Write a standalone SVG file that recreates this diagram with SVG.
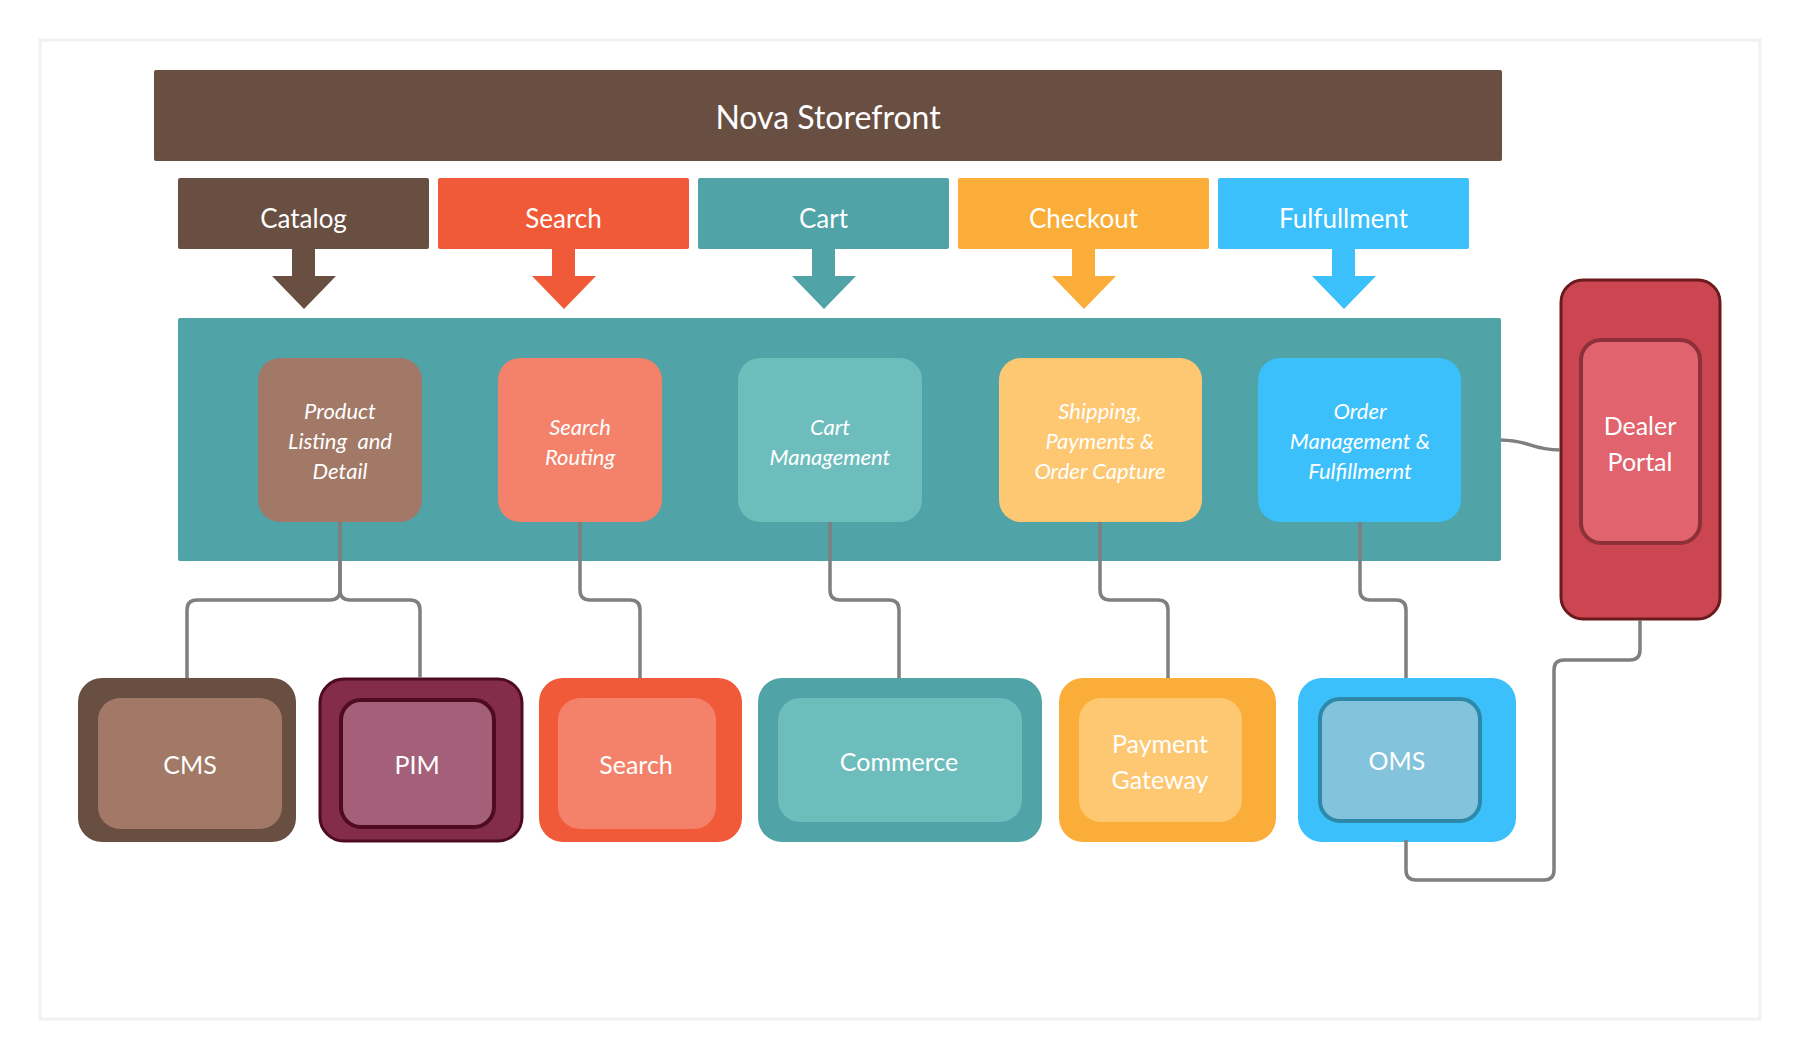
<svg xmlns="http://www.w3.org/2000/svg" width="1800" height="1060" viewBox="0 0 1800 1060">
<style>
  text { font-family: Lato, "Open Sans", "Liberation Sans", sans-serif; fill: #ffffff; text-anchor: middle; dominant-baseline: central; }
  .title { font-size: 32px; }
  .cat { font-size: 26px; }
  .svc { font-size: 22px; font-style: italic; white-space: pre; }
  .sys { font-size: 25px; }
  .conn { fill: none; stroke: #7f7f7f; stroke-width: 3.5; }
</style>
<rect x="0" y="0" width="1800" height="1060" fill="#ffffff"/>
<rect x="40" y="40" width="1720" height="979" fill="#ffffff" stroke="#f1f1f1" stroke-width="3"/>

<g id="storefront">
  <rect x="154" y="70" width="1348" height="91" rx="2" fill="#694e42"/>
  <text class="title" x="828" y="116">Nova Storefront</text>
</g>

<g id="cat-catalog">
  <rect x="178" y="178" width="251" height="71" rx="2" fill="#694e42"/>
  <text class="cat" x="303.5" y="218">Catalog</text>
  <polygon points="292,249 315,249 315,276 336,276 304,309 272,276 292,276" fill="#694e42"/>
</g>
<g id="cat-search">
  <rect x="438" y="178" width="251" height="71" rx="2" fill="#f15a38"/>
  <text class="cat" x="563.5" y="218">Search</text>
  <polygon points="552,249 575,249 575,276 596,276 564,309 532,276 552,276" fill="#f15a38"/>
</g>
<g id="cat-cart">
  <rect x="698" y="178" width="251" height="71" rx="2" fill="#50a4a7"/>
  <text class="cat" x="823.5" y="218">Cart</text>
  <polygon points="812,249 835,249 835,276 856,276 824,309 792,276 812,276" fill="#50a4a7"/>
</g>
<g id="cat-checkout">
  <rect x="958" y="178" width="251" height="71" rx="2" fill="#faae39"/>
  <text class="cat" x="1083.5" y="218">Checkout</text>
  <polygon points="1072,249 1095,249 1095,276 1116,276 1084,309 1052,276 1072,276" fill="#faae39"/>
</g>
<g id="cat-fulfillment">
  <rect x="1218" y="178" width="251" height="71" rx="2" fill="#3bc0fb"/>
  <text class="cat" x="1343.5" y="218">Fulfullment</text>
  <polygon points="1332,249 1355,249 1355,276 1376,276 1344,309 1312,276 1332,276" fill="#3bc0fb"/>
</g>

<g id="container">
  <rect x="178" y="318" width="1323" height="243" rx="2" fill="#50a4a7"/>
</g>

<g id="svc-product">
  <rect x="258" y="358" width="164" height="164" rx="22" fill="#a27866"/>
  <text class="svc" x="340" y="410">Product</text>
  <text class="svc" x="340" y="440">Listing  and</text>
  <text class="svc" x="340" y="470">Detail</text>
</g>
<g id="svc-search-routing">
  <rect x="498" y="358" width="164" height="164" rx="22" fill="#f4826a"/>
  <text class="svc" x="580" y="426">Search</text>
  <text class="svc" x="580" y="456">Routing</text>
</g>
<g id="svc-cart">
  <rect x="738" y="358" width="184" height="164" rx="22" fill="#6ebdbd"/>
  <text class="svc" x="830" y="426">Cart</text>
  <text class="svc" x="830" y="456">Management</text>
</g>
<g id="svc-shipping">
  <rect x="999" y="358" width="203" height="164" rx="22" fill="#fec873"/>
  <text class="svc" x="1100" y="410">Shipping,</text>
  <text class="svc" x="1100" y="440">Payments &amp;</text>
  <text class="svc" x="1100" y="470">Order Capture</text>
</g>
<g id="svc-order">
  <rect x="1258" y="358" width="203" height="164" rx="22" fill="#3bc0fb"/>
  <text class="svc" x="1360" y="410">Order</text>
  <text class="svc" x="1360" y="440">Management &amp;</text>
  <text class="svc" x="1360" y="470">Fulfillmernt</text>
</g>

<g id="dealer-portal">
  <rect x="1561" y="280" width="159" height="339" rx="22" fill="#cb4650" stroke="#6b1a1e" stroke-width="3"/>
  <rect x="1581" y="340" width="119" height="203" rx="20" fill="#e0636e" stroke="#8e3039" stroke-width="4"/>
  <text class="sys" x="1640" y="425">Dealer</text>
  <text class="sys" x="1640" y="461">Portal</text>
</g>

<g id="sys-cms">
  <rect x="78" y="678" width="218" height="164" rx="24" fill="#694e42"/>
  <rect x="98" y="698" width="184" height="131" rx="22" fill="#a27866"/>
  <text class="sys" x="190" y="764">CMS</text>
</g>
<g id="sys-pim">
  <rect x="320" y="679" width="202" height="162" rx="24" fill="#832d4a" stroke="#4e0b22" stroke-width="3"/>
  <rect x="341" y="700" width="153" height="127" rx="20" fill="#a46078" stroke="#4e0b22" stroke-width="4"/>
  <text class="sys" x="417" y="764">PIM</text>
</g>
<g id="sys-search">
  <rect x="539" y="678" width="203" height="164" rx="24" fill="#f15a38"/>
  <rect x="558" y="698" width="158" height="131" rx="22" fill="#f4826a"/>
  <text class="sys" x="636" y="764">Search</text>
</g>
<g id="sys-commerce">
  <rect x="758" y="678" width="284" height="164" rx="24" fill="#50a4a7"/>
  <rect x="778" y="698" width="244" height="124" rx="22" fill="#6ebdbd"/>
  <text class="sys" x="899" y="761">Commerce</text>
</g>
<g id="sys-payment">
  <rect x="1059" y="678" width="217" height="164" rx="24" fill="#faae39"/>
  <rect x="1079" y="698" width="163" height="124" rx="22" fill="#fec873"/>
  <text class="sys" x="1160" y="743">Payment</text>
  <text class="sys" x="1160" y="779">Gateway</text>
</g>
<g id="sys-oms">
  <rect x="1298" y="678" width="218" height="164" rx="24" fill="#3bc0fb"/>
  <rect x="1320" y="699" width="160" height="122" rx="20" fill="#84c3dc" stroke="#2e88aa" stroke-width="4"/>
  <text class="sys" x="1397" y="760">OMS</text>
</g>

<g id="connectors">
  <path class="conn" d="M340,522 V590 Q340,600 330,600 H197 Q187,600 187,610 V678"/>
  <path class="conn" d="M340,522 V590 Q340,600 350,600 H410 Q420,600 420,610 V678"/>
  <path class="conn" d="M580,522 V590 Q580,600 590,600 H630 Q640,600 640,610 V678"/>
  <path class="conn" d="M830,522 V590 Q830,600 840,600 H889 Q899,600 899,610 V678"/>
  <path class="conn" d="M1100,522 V590 Q1100,600 1110,600 H1158 Q1168,600 1168,610 V678"/>
  <path class="conn" d="M1360,522 V590 Q1360,600 1370,600 H1396 Q1406,600 1406,610 V678"/>
  <path class="conn" d="M1406,840 V870 Q1406,880 1416,880 H1544 Q1554,880 1554,870 V670 Q1554,660 1564,660 H1630 Q1640,660 1640,650 V620"/>
  <path class="conn" d="M1501,440 C1530,440 1530,450 1560,450"/>
</g>
</svg>
